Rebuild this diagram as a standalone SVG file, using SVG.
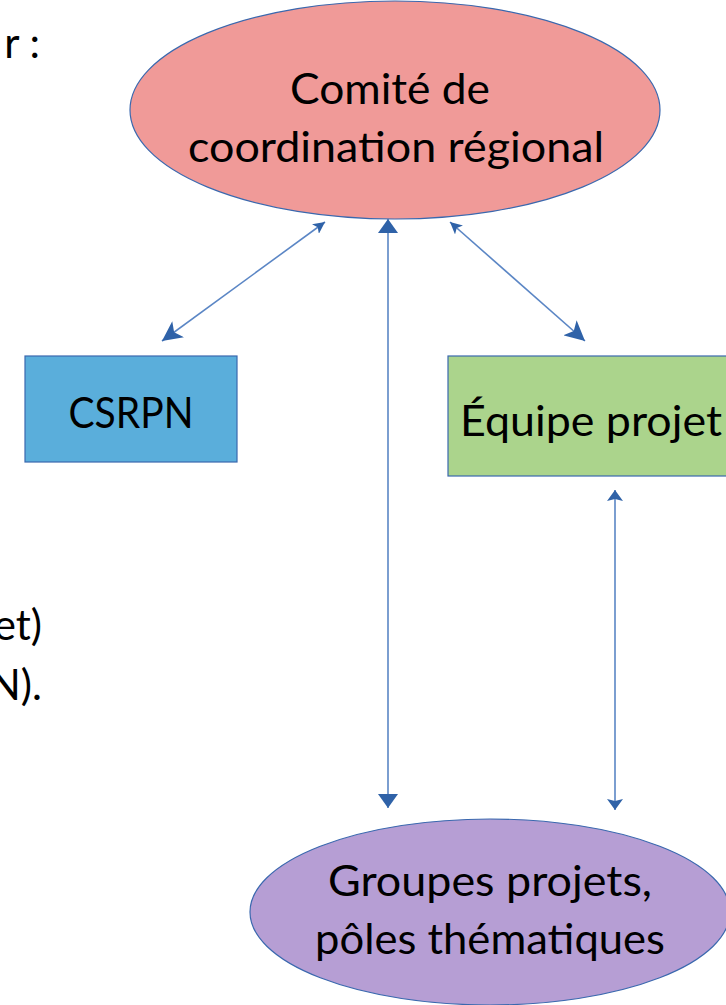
<svg xmlns="http://www.w3.org/2000/svg" width="726" height="1005" viewBox="0 0 726 1005">
<style>
text{font-family:Lato,"Open Sans","Liberation Sans",sans-serif;font-size:42px;fill:#000}
.c{text-anchor:middle}
.e{text-anchor:end}
.node{stroke:#3A68AE;stroke-width:1.2}
.conn{stroke:#5B86C5;stroke-width:1.6;fill:none}
</style>
<defs>
<marker id="big" markerUnits="userSpaceOnUse" viewBox="0 0 20 20" markerWidth="20" markerHeight="20" refX="20" refY="10" orient="auto-start-reverse"><path d="M0,0 L20,10 L0,20 L5,10 z" fill="#2F62A8"/></marker>
<marker id="tri" markerUnits="userSpaceOnUse" viewBox="0 0 14 20" markerWidth="14" markerHeight="20" refX="14" refY="10" orient="auto-start-reverse"><path d="M0,0 L14,10 L0,20 z" fill="#2F62A8"/></marker>
<marker id="sm" markerUnits="userSpaceOnUse" viewBox="0 0 12 12" markerWidth="12" markerHeight="12" refX="12" refY="6" orient="auto-start-reverse"><path d="M0,0 L12,6 L0,12 L3,6 z" fill="#2F62A8"/></marker>
<marker id="smt" markerUnits="userSpaceOnUse" viewBox="0 0 11 16" markerWidth="11" markerHeight="16" refX="11" refY="8" orient="auto-start-reverse"><path d="M0,0 L11,8 L0,16 L2,8 z" fill="#2F62A8"/></marker>
</defs>
<text class="e" x="40" y="58">r :</text>
<text class="e" x="42" y="640">et)</text>
<text class="e" x="42" y="700">N).</text>
<g id="connectors">
<line class="conn" x1="325" y1="222" x2="162" y2="341" marker-start="url(#sm)" marker-end="url(#big)"/>
<line class="conn" x1="450" y1="222" x2="585" y2="341" marker-start="url(#sm)" marker-end="url(#big)"/>
<line class="conn" x1="388" y1="219" x2="388" y2="808" marker-start="url(#tri)" marker-end="url(#tri)"/>
<line class="conn" x1="615" y1="490" x2="615" y2="810" marker-start="url(#smt)" marker-end="url(#smt)"/>
</g>
<g id="comite">
<ellipse class="node" cx="395" cy="110" rx="265" ry="109" fill="#F09A98"/>
<text class="c" x="390" y="104" textLength="200" lengthAdjust="spacingAndGlyphs">Comité de</text>
<text class="c" x="396" y="162" textLength="416" lengthAdjust="spacingAndGlyphs">coordination régional</text>
</g>
<g id="csrpn">
<rect class="node" x="25" y="356" width="212" height="106" fill="#5AAEDB"/>
<text class="c" x="131" y="428" textLength="125" lengthAdjust="spacingAndGlyphs">CSRPN</text>
</g>
<g id="equipe">
<rect class="node" x="448" y="356" width="290" height="120" fill="#ABD48C"/>
<text class="c" x="591" y="436" textLength="262" lengthAdjust="spacingAndGlyphs">Équipe projet</text>
</g>
<g id="groupes">
<ellipse class="node" cx="490" cy="912" rx="240" ry="93" fill="#B69ED4"/>
<text class="c" x="490" y="896" textLength="324" lengthAdjust="spacingAndGlyphs">Groupes projets,</text>
<text class="c" x="490" y="954" textLength="350" lengthAdjust="spacingAndGlyphs">pôles thématiques</text>
</g>
</svg>
